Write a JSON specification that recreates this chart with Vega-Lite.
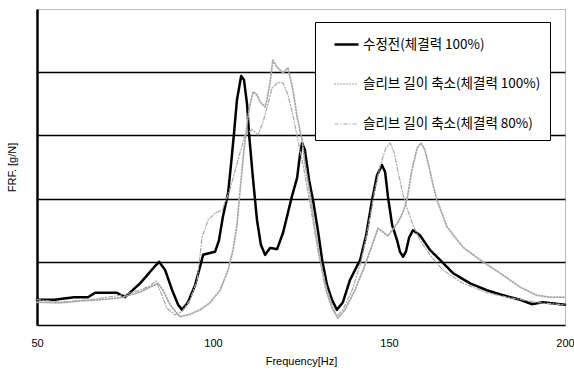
{
"$schema": "https://vega.github.io/schema/vega-lite/v6.json",
"width": 528, "height": 316,
"autosize": {"type": "none"},
"padding": {"left": 37, "top": 9, "right": 9, "bottom": 45},
"background": "white",
"config": {"view": {"stroke": "#777", "strokeDash": [1, 1], "strokeWidth": 1}, "font": "Liberation Sans",
 "legend": {"title": null, "orient": "none", "legendX": 278, "legendY": 13, "fillColor": "white", "strokeColor": "black",
  "padding": 9, "symbolOffset": 9, "symbolType": "stroke", "symbolSize": 576, "labelFont": "Noto Sans CJK KR", "labelFontSize": 13.5,
  "labelColor": "black", "labelOffset": 3, "rowPadding": 20, "labelLimit": 400}},
"data": {"values": [
{"s":"수정전(체결력 100%)","f":50.0,"v":0.40},{"s":"수정전(체결력 100%)","f":55.1,"v":0.40},{"s":"수정전(체결력 100%)","f":59.4,"v":0.43},{"s":"수정전(체결력 100%)","f":60.5,"v":0.44},{"s":"수정전(체결력 100%)","f":64.5,"v":0.44},{"s":"수정전(체결력 100%)","f":66.5,"v":0.51},{"s":"수정전(체결력 100%)","f":72.7,"v":0.51},{"s":"수정전(체결력 100%)","f":75.0,"v":0.44},{"s":"수정전(체결력 100%)","f":79.3,"v":0.66},{"s":"수정전(체결력 100%)","f":83.5,"v":0.93},{"s":"수정전(체결력 100%)","f":84.7,"v":1.00},{"s":"수정전(체결력 100%)","f":86.4,"v":0.87},{"s":"수정전(체결력 100%)","f":88.4,"v":0.55},{"s":"수정전(체결력 100%)","f":90.1,"v":0.32},{"s":"수정전(체결력 100%)","f":91.2,"v":0.24},{"s":"수정전(체결력 100%)","f":92.9,"v":0.36},{"s":"수정전(체결력 100%)","f":94.9,"v":0.63},{"s":"수정전(체결력 100%)","f":96.3,"v":0.92},{"s":"수정전(체결력 100%)","f":97.2,"v":1.11},{"s":"수정전(체결력 100%)","f":99.1,"v":1.14},{"s":"수정전(체결력 100%)","f":100.6,"v":1.16},{"s":"수정전(체결력 100%)","f":101.7,"v":1.34},{"s":"수정전(체결력 100%)","f":102.8,"v":1.71},{"s":"수정전(체결력 100%)","f":104.3,"v":2.09},{"s":"수정전(체결력 100%)","f":105.1,"v":2.53},{"s":"수정전(체결력 100%)","f":106.0,"v":3.05},{"s":"수정전(체결력 100%)","f":106.8,"v":3.56},{"s":"수정전(체결력 100%)","f":108.0,"v":3.94},{"s":"수정전(체결력 100%)","f":108.8,"v":3.88},{"s":"수정전(체결력 100%)","f":109.7,"v":3.48},{"s":"수정전(체결력 100%)","f":110.2,"v":3.05},{"s":"수정전(체결력 100%)","f":111.4,"v":2.29},{"s":"수정전(체결력 100%)","f":112.5,"v":1.66},{"s":"수정전(체결력 100%)","f":113.6,"v":1.27},{"s":"수정전(체결력 100%)","f":114.8,"v":1.11},{"s":"수정전(체결력 100%)","f":116.2,"v":1.22},{"s":"수정전(체결력 100%)","f":118.2,"v":1.20},{"s":"수정전(체결력 100%)","f":119.9,"v":1.46},{"s":"수정전(체결력 100%)","f":121.0,"v":1.71},{"s":"수정전(체결력 100%)","f":122.4,"v":2.03},{"s":"수정전(체결력 100%)","f":123.9,"v":2.33},{"s":"수정전(체결력 100%)","f":124.7,"v":2.69},{"s":"수정전(체결력 100%)","f":125.3,"v":2.88},{"s":"수정전(체결력 100%)","f":126.1,"v":2.77},{"s":"수정전(체결력 100%)","f":127.3,"v":2.29},{"s":"수정전(체결력 100%)","f":128.4,"v":1.98},{"s":"수정전(체결력 100%)","f":129.8,"v":1.50},{"s":"수정전(체결력 100%)","f":131.0,"v":1.03},{"s":"수정전(체결력 100%)","f":132.4,"v":0.63},{"s":"수정전(체결력 100%)","f":133.8,"v":0.40},{"s":"수정전(체결력 100%)","f":135.2,"v":0.24},{"s":"수정전(체결력 100%)","f":136.9,"v":0.36},{"s":"수정전(체결력 100%)","f":138.9,"v":0.71},{"s":"수정전(체결력 100%)","f":141.8,"v":1.03},{"s":"수정전(체결력 100%)","f":143.5,"v":1.42},{"s":"수정전(체결력 100%)","f":145.2,"v":1.98},{"s":"수정전(체결력 100%)","f":146.6,"v":2.37},{"s":"수정전(체결력 100%)","f":148.0,"v":2.53},{"s":"수정전(체결력 100%)","f":148.9,"v":2.42},{"s":"수정전(체결력 100%)","f":149.7,"v":2.03},{"s":"수정전(체결력 100%)","f":150.9,"v":1.58},{"s":"수정전(체결력 100%)","f":152.3,"v":1.34},{"s":"수정전(체결력 100%)","f":153.1,"v":1.16},{"s":"수정전(체결력 100%)","f":154.0,"v":1.08},{"s":"수정전(체결력 100%)","f":154.8,"v":1.16},{"s":"수정전(체결력 100%)","f":155.7,"v":1.38},{"s":"수정전(체결력 100%)","f":156.8,"v":1.50},{"s":"수정전(체결력 100%)","f":158.8,"v":1.42},{"s":"수정전(체결력 100%)","f":161.6,"v":1.19},{"s":"수정전(체결력 100%)","f":164.5,"v":1.03},{"s":"수정전(체결력 100%)","f":168.2,"v":0.82},{"s":"수정전(체결력 100%)","f":173.0,"v":0.66},{"s":"수정전(체결력 100%)","f":177.8,"v":0.55},{"s":"수정전(체결력 100%)","f":182.4,"v":0.47},{"s":"수정전(체결력 100%)","f":187.2,"v":0.40},{"s":"수정전(체결력 100%)","f":190.6,"v":0.33},{"s":"수정전(체결력 100%)","f":193.7,"v":0.36},{"s":"수정전(체결력 100%)","f":200.0,"v":0.32},
{"s":"슬리브 길이 축소(체결력 100%)","f":50.0,"v":0.36},{"s":"슬리브 길이 축소(체결력 100%)","f":56.5,"v":0.35},{"s":"슬리브 길이 축소(체결력 100%)","f":62.2,"v":0.38},{"s":"슬리브 길이 축소(체결력 100%)","f":67.9,"v":0.40},{"s":"슬리브 길이 축소(체결력 100%)","f":73.6,"v":0.43},{"s":"슬리브 길이 축소(체결력 100%)","f":79.3,"v":0.52},{"s":"슬리브 길이 축소(체결력 100%)","f":82.1,"v":0.60},{"s":"슬리브 길이 축소(체결력 100%)","f":84.4,"v":0.66},{"s":"슬리브 길이 축소(체결력 100%)","f":85.8,"v":0.55},{"s":"슬리브 길이 축소(체결력 100%)","f":87.8,"v":0.32},{"s":"슬리브 길이 축소(체결력 100%)","f":90.6,"v":0.13},{"s":"슬리브 길이 축소(체결력 100%)","f":93.5,"v":0.17},{"s":"슬리브 길이 축소(체결력 100%)","f":96.3,"v":0.24},{"s":"슬리브 길이 축소(체결력 100%)","f":99.1,"v":0.35},{"s":"슬리브 길이 축소(체결력 100%)","f":102.0,"v":0.55},{"s":"슬리브 길이 축소(체결력 100%)","f":104.3,"v":0.87},{"s":"슬리브 길이 축소(체결력 100%)","f":105.7,"v":1.19},{"s":"슬리브 길이 축소(체결력 100%)","f":106.8,"v":1.58},{"s":"슬리브 길이 축소(체결력 100%)","f":107.7,"v":2.14},{"s":"슬리브 길이 축소(체결력 100%)","f":108.8,"v":2.77},{"s":"슬리브 길이 축소(체결력 100%)","f":110.0,"v":3.32},{"s":"슬리브 길이 축소(체결력 100%)","f":110.6,"v":3.51},{"s":"슬리브 길이 축소(체결력 100%)","f":111.4,"v":3.69},{"s":"슬리브 길이 축소(체결력 100%)","f":112.5,"v":3.64},{"s":"슬리브 길이 축소(체결력 100%)","f":113.4,"v":3.53},{"s":"슬리브 길이 축소(체결력 100%)","f":114.8,"v":3.45},{"s":"슬리브 길이 축소(체결력 100%)","f":115.3,"v":3.56},{"s":"슬리브 길이 축소(체결력 100%)","f":116.2,"v":3.83},{"s":"슬리브 길이 축소(체결력 100%)","f":117.0,"v":4.19},{"s":"슬리브 길이 축소(체결력 100%)","f":118.2,"v":4.08},{"s":"슬리브 길이 축소(체결력 100%)","f":119.9,"v":3.99},{"s":"슬리브 길이 축소(체결력 100%)","f":121.3,"v":4.07},{"s":"슬리브 길이 축소(체결력 100%)","f":122.7,"v":3.72},{"s":"슬리브 길이 축소(체결력 100%)","f":123.9,"v":3.29},{"s":"슬리브 길이 축소(체결력 100%)","f":125.3,"v":2.93},{"s":"슬리브 길이 축소(체결력 100%)","f":126.1,"v":2.56},{"s":"슬리브 길이 축소(체결력 100%)","f":127.6,"v":2.06},{"s":"슬리브 길이 축소(체결력 100%)","f":129.0,"v":1.50},{"s":"슬리브 길이 축소(체결력 100%)","f":130.4,"v":1.03},{"s":"슬리브 길이 축소(체결력 100%)","f":132.1,"v":0.55},{"s":"슬리브 길이 축소(체결력 100%)","f":133.8,"v":0.27},{"s":"슬리브 길이 축소(체결력 100%)","f":135.5,"v":0.11},{"s":"슬리브 길이 축소(체결력 100%)","f":137.5,"v":0.24},{"s":"슬리브 길이 축소(체결력 100%)","f":140.3,"v":0.55},{"s":"슬리브 길이 축소(체결력 100%)","f":143.2,"v":0.95},{"s":"슬리브 길이 축소(체결력 100%)","f":146.9,"v":1.53},{"s":"슬리브 길이 축소(체결력 100%)","f":149.7,"v":1.41},{"s":"슬리브 길이 축소(체결력 100%)","f":152.6,"v":1.63},{"s":"슬리브 길이 축소(체결력 100%)","f":154.0,"v":1.79},{"s":"슬리브 길이 축소(체결력 100%)","f":155.1,"v":1.98},{"s":"슬리브 길이 축소(체결력 100%)","f":156.5,"v":2.45},{"s":"슬리브 길이 축소(체결력 100%)","f":158.0,"v":2.80},{"s":"슬리브 길이 축소(체결력 100%)","f":159.1,"v":2.88},{"s":"슬리브 길이 축소(체결력 100%)","f":160.2,"v":2.77},{"s":"슬리브 길이 축소(체결력 100%)","f":161.4,"v":2.50},{"s":"슬리브 길이 축소(체결력 100%)","f":162.5,"v":2.22},{"s":"슬리브 길이 축소(체결력 100%)","f":163.6,"v":1.98},{"s":"슬리브 길이 축소(체결력 100%)","f":166.5,"v":1.55},{"s":"슬리브 길이 축소(체결력 100%)","f":171.0,"v":1.23},{"s":"슬리브 길이 축소(체결력 100%)","f":175.9,"v":1.03},{"s":"슬리브 길이 축소(체결력 100%)","f":182.4,"v":0.79},{"s":"슬리브 길이 축소(체결력 100%)","f":187.2,"v":0.60},{"s":"슬리브 길이 축소(체결력 100%)","f":192.0,"v":0.47},{"s":"슬리브 길이 축소(체결력 100%)","f":195.7,"v":0.44},{"s":"슬리브 길이 축소(체결력 100%)","f":200.0,"v":0.44},
{"s":"슬리브 길이 축소(체결력 80%)","f":50.0,"v":0.40},{"s":"슬리브 길이 축소(체결력 80%)","f":56.5,"v":0.36},{"s":"슬리브 길이 축소(체결력 80%)","f":65.1,"v":0.40},{"s":"슬리브 길이 축소(체결력 80%)","f":73.6,"v":0.47},{"s":"슬리브 길이 축소(체결력 80%)","f":79.3,"v":0.55},{"s":"슬리브 길이 축소(체결력 80%)","f":82.1,"v":0.62},{"s":"슬리브 길이 축소(체결력 80%)","f":83.8,"v":0.70},{"s":"슬리브 길이 축소(체결력 80%)","f":85.5,"v":0.47},{"s":"슬리브 길이 축소(체결력 80%)","f":86.9,"v":0.27},{"s":"슬리브 길이 축소(체결력 80%)","f":89.2,"v":0.16},{"s":"슬리브 길이 축소(체결력 80%)","f":91.2,"v":0.21},{"s":"슬리브 길이 축소(체결력 80%)","f":93.5,"v":0.40},{"s":"슬리브 길이 축소(체결력 80%)","f":95.5,"v":0.71},{"s":"슬리브 길이 축소(체결력 80%)","f":96.9,"v":1.39},{"s":"슬리브 길이 축소(체결력 80%)","f":98.6,"v":1.66},{"s":"슬리브 길이 축소(체결력 80%)","f":100.6,"v":1.77},{"s":"슬리브 길이 축소(체결력 80%)","f":102.6,"v":1.82},{"s":"슬리브 길이 축소(체결력 80%)","f":104.8,"v":2.14},{"s":"슬리브 길이 축소(체결력 80%)","f":107.1,"v":2.61},{"s":"슬리브 길이 축소(체결력 80%)","f":109.1,"v":3.01},{"s":"슬리브 길이 축소(체결력 80%)","f":111.1,"v":3.09},{"s":"슬리브 길이 축소(체결력 80%)","f":112.8,"v":3.01},{"s":"슬리브 길이 축소(체결력 80%)","f":114.2,"v":3.21},{"s":"슬리브 길이 축소(체결력 80%)","f":115.3,"v":3.43},{"s":"슬리브 길이 축소(체결력 80%)","f":116.8,"v":3.75},{"s":"슬리브 길이 축소(체결력 80%)","f":118.5,"v":3.84},{"s":"슬리브 길이 축소(체결력 80%)","f":119.9,"v":3.83},{"s":"슬리브 길이 축소(체결력 80%)","f":121.3,"v":3.64},{"s":"슬리브 길이 축소(체결력 80%)","f":122.7,"v":3.32},{"s":"슬리브 길이 축소(체결력 80%)","f":124.1,"v":2.93},{"s":"슬리브 길이 축소(체결력 80%)","f":125.6,"v":2.53},{"s":"슬리브 길이 축소(체결력 80%)","f":127.6,"v":1.90},{"s":"슬리브 길이 축소(체결력 80%)","f":129.8,"v":1.19},{"s":"슬리브 길이 축소(체결력 80%)","f":132.1,"v":0.63},{"s":"슬리브 길이 축소(체결력 80%)","f":134.1,"v":0.27},{"s":"슬리브 길이 축소(체결력 80%)","f":135.2,"v":0.14},{"s":"슬리브 길이 축소(체결력 80%)","f":136.9,"v":0.24},{"s":"슬리브 길이 축소(체결력 80%)","f":139.5,"v":0.55},{"s":"슬리브 길이 축소(체결력 80%)","f":141.8,"v":0.95},{"s":"슬리브 길이 축소(체결력 80%)","f":143.8,"v":1.46},{"s":"슬리브 길이 축소(체결력 80%)","f":145.7,"v":2.06},{"s":"슬리브 길이 축소(체결력 80%)","f":147.4,"v":2.50},{"s":"슬리브 길이 축소(체결력 80%)","f":149.1,"v":2.80},{"s":"슬리브 길이 축소(체결력 80%)","f":150.3,"v":2.88},{"s":"슬리브 길이 축소(체결력 80%)","f":151.4,"v":2.74},{"s":"슬리브 길이 축소(체결력 80%)","f":152.6,"v":2.42},{"s":"슬리브 길이 축소(체결력 80%)","f":154.0,"v":2.06},{"s":"슬리브 길이 축소(체결력 80%)","f":155.1,"v":1.85},{"s":"슬리브 길이 축소(체결력 80%)","f":156.5,"v":1.63},{"s":"슬리브 길이 축소(체결력 80%)","f":158.8,"v":1.34},{"s":"슬리브 길이 축소(체결력 80%)","f":161.6,"v":1.11},{"s":"슬리브 길이 축소(체결력 80%)","f":165.3,"v":0.87},{"s":"슬리브 길이 축소(체결력 80%)","f":171.0,"v":0.66},{"s":"슬리브 길이 축소(체결력 80%)","f":177.8,"v":0.51},{"s":"슬리브 길이 축소(체결력 80%)","f":184.4,"v":0.43},{"s":"슬리브 길이 축소(체결력 80%)","f":192.9,"v":0.35},{"s":"슬리브 길이 축소(체결력 80%)","f":200.0,"v":0.32}
]},
"mark": {"type": "line", "strokeCap": "round", "strokeJoin": "round"},
"encoding": {
"x": {"field": "f", "type": "quantitative",
 "scale": {"domain": [50, 200], "nice": false, "zero": false},
 "axis": {"values": [50, 100, 150, 200], "title": "Frequency[Hz]", "grid": false, "ticks": false,
  "labelFlush": false, "labelFont": "Liberation Sans", "labelFontSize": 11, "labelColor": "black", "labelPadding": 12,
  "titleFont": "Liberation Sans", "titleFontSize": 11, "titleFontWeight": "normal", "titleColor": "black", "titlePadding": 7,
  "domainColor": "black", "domainWidth": 1.5}},
"y": {"field": "v", "type": "quantitative",
 "scale": {"domain": [0, 5], "nice": false, "zero": false},
 "axis": {"values": [1, 2, 3, 4], "title": "FRF. [g/N]", "labels": false, "ticks": false, "grid": true,
  "gridColor": "black", "gridWidth": 1.5, "gridOpacity": 1,
  "titleFont": "Liberation Sans", "titleFontSize": 11, "titleFontWeight": "normal", "titleColor": "black", "titlePadding": 20,
  "domainColor": "black", "domainWidth": 2.5}},
"color": {"field": "s", "type": "nominal",
 "scale": {"domain": ["수정전(체결력 100%)", "슬리브 길이 축소(체결력 100%)", "슬리브 길이 축소(체결력 80%)"], "range": ["#000000", "#a8a8a8", "#a8a8a8"]},
 "legend": {"title": null}},
"strokeDash": {"field": "s", "type": "nominal",
 "scale": {"domain": ["수정전(체결력 100%)", "슬리브 길이 축소(체결력 100%)", "슬리브 길이 축소(체결력 80%)"], "range": [[1, 0], [1, 2], [4, 2, 1, 2]]},
 "legend": {"title": null}},
"strokeWidth": {"field": "s", "type": "nominal",
 "scale": {"domain": ["수정전(체결력 100%)", "슬리브 길이 축소(체결력 100%)", "슬리브 길이 축소(체결력 80%)"], "range": [2.5, 1.2, 1.2]},
 "legend": {"title": null}}
}
}
